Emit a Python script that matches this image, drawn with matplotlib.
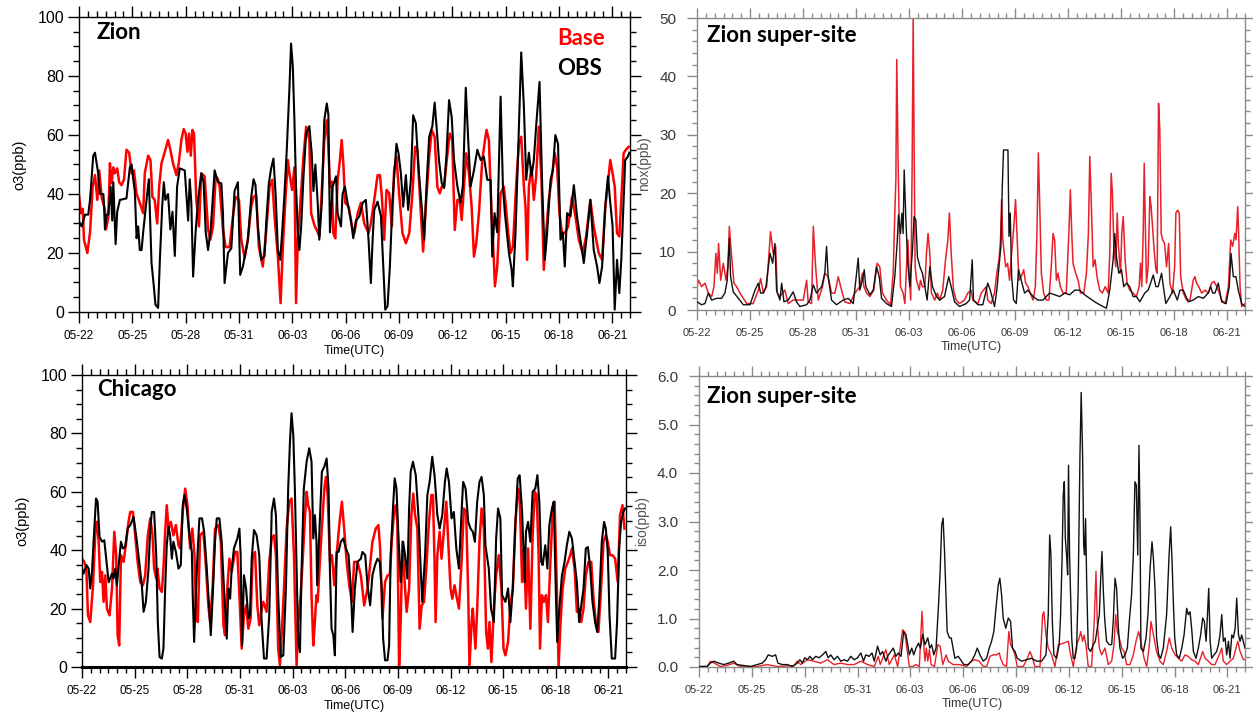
import matplotlib
matplotlib.use("Agg")
import matplotlib.pyplot as plt
from matplotlib.ticker import MultipleLocator, FixedLocator, FormatStrFormatter

plt.rcParams['font.family'] = ['Liberation Sans', 'DejaVu Sans']

# ---------------- data (time = days since 05-22 00 UTC) ----------------
date_labels = ["05-22", "05-25", "05-28", "05-31", "06-03", "06-06",
               "06-09", "06-12", "06-15", "06-18", "06-21"]

zion_obs = [(0,30.7),(0.15,29),(0.34,33),(0.52,33),(0.62,38),(0.80,53),(0.90,54),(1.08,47),(1.18,40),(1.37,40),(1.40,37),(1.46,28),(1.55,33),(1.65,33),(1.78,42.5),(1.87,31),(1.93,44),(2.06,23),(2.15,34),(2.30,38),(2.67,38.5),(2.86,49),(2.96,50),(3.05,45),(3.14,41),(3.24,25),(3.33,29),(3.42,21),(3.52,21),(3.61,27),(3.80,38),(3.93,45),(4.08,16.6),(4.21,8.7),(4.30,2.5),(4.45,1.4),(4.55,17.7),(4.68,35.7),(4.77,44),(4.86,38),(5.01,40),(5.14,28),(5.26,34),(5.39,19),(5.52,42.5),(5.67,48.7),(5.95,48),(6.14,31),(6.23,45),(6.32,37),(6.42,12),(6.57,28),(6.70,38),(6.88,47),(7.01,44),(7.13,27),(7.26,21),(7.41,28),(7.63,48),(7.82,44),(8.01,43.6),(8.10,33.5),(8.19,9.8),(8.38,20),(8.57,21.6),(8.75,41),(8.94,44),(9.07,12.6),(9.22,15.4),(9.50,24.5),(9.69,39),(9.82,45),(9.93,43),(10.06,29),(10.25,17.7),(10.44,19),(10.53,30),(10.68,43.6),(10.81,48.7),(10.94,52),(11.06,40),(11.19,21),(11.32,17.7),(11.43,27),(11.56,40),(11.69,55),(11.84,76),(11.93,91),(12.03,83),(12.12,65),(12.21,42.5),(12.31,27),(12.40,21),(12.50,29),(12.63,46),(12.78,60.5),(12.96,63),(13.09,54),(13.19,41),(13.30,50),(13.43,37),(13.52,24.5),
            (13.67,38),(13.80,65),(13.94,70.7),(14.03,67),(14.12,27),(14.27,42.5),(14.46,46),(14.55,33.5),(14.74,29),(14.83,40),(14.96,42.5),(15.11,37),(15.30,31),(15.43,25),(15.58,31),(15.77,32.4),(15.96,37),(16.14,38),(16.29,24.5),(16.42,9.8),(16.52,24.5),(16.61,34.6),(16.80,37.4),(16.99,32.4),(17.12,15.4),(17.23,0.8),(17.36,2),(17.49,15.4),(17.64,38),(17.86,57),(17.97,54),(18.11,47),(18.24,35.7),(18.39,46.4),(18.52,34.6),(18.67,44.8),(18.80,66.7),(18.95,64),(19.10,49),(19.28,35.7),(19.42,24.5),(19.55,42.5),(19.70,59.4),(19.88,63),(20.01,71),(20.16,59.4),(20.25,51.5),(20.41,43.6),(20.54,42),(20.67,52.7),(20.82,71.8),(20.97,66),(21.10,51.5),(21.29,42.5),(21.47,37),(21.60,43),(21.76,76),(21.90,58),(22.03,42.5),(22.22,48),(22.41,55),(22.60,51.5),(22.78,52.7),(22.97,44.8),(23.16,44.8),(23.25,18.8),(23.38,33.5),(23.53,27),(23.72,73),(23.85,42.5),(23.96,33.5),(24.19,20),(24.34,14.3),(24.41,8.7),(24.56,27),(24.71,55),(24.88,88),(25.03,69.6),(25.16,44.8),(25.31,54),(25.46,46),(25.59,51.5),(25.72,63),(25.91,78),(26.06,42.5),(26.21,17.7),(26.34,27),(26.53,44.8),(26.66,48),(26.80,60),(26.95,57),(27.09,24.5),(27.22,27),(27.33,15.4),(27.46,33.5),(27.65,32.4),(27.84,43),(28.02,32.4),(28.21,24.5),(28.40,16.6),(28.59,27),(28.77,38),(28.96,21),(29.15,15.4),(29.28,9.8),(29.43,15.4),(29.61,35.7),(29.76,46),(29.89,37),(30.02,29),(30.14,0.8),(30.27,17.7),(30.40,6.4),(30.51,17.7),(30.64,38),(30.73,51.5),(30.88,52.7),(30.96,54)]

zion_base = [(0,39.7),(0.11,33.5),(0.21,35),(0.28,24.5),(0.47,20),(0.62,27),(0.77,42.5),(0.90,46.4),(1.03,38),(1.14,48),(1.27,39),(1.46,34.6),(1.52,28),(1.65,32),(1.74,50.4),(1.83,43.6),(1.93,49),(2.02,47),(2.15,48.7),(2.26,44),(2.39,43),(2.53,44.8),(2.67,55),(2.82,54),(2.96,47),(3.09,48),(3.24,40),(3.42,37),(3.61,33.5),(3.70,47),(3.89,53),(4.02,51.5),(4.13,39),(4.26,38),(4.40,30),(4.51,42.5),(4.64,50.4),(4.83,54.3),(5.01,58.3),(5.14,55),(5.29,50.4),(5.48,46.4),(5.61,50.4),(5.76,58.3),(5.89,62),(6.00,60.5),(6.10,54.3),(6.19,60.5),(6.29,53),(6.38,61.7),(6.47,60.5),(6.60,38),(6.75,29),(6.88,47),(7.07,46),(7.26,28),(7.39,24.5),(7.54,29),(7.69,46),(7.82,45),(7.91,42.5),(8.10,28),(8.25,22),(8.47,22),(8.66,32.4),(8.81,39),(9.00,38),(9.13,24.5),(9.32,18.3),(9.50,24.5),(9.69,35.7),(9.82,39),(9.97,39.7),(10.12,22),(10.34,15.4),(10.53,27),(10.72,42.5),(10.87,44.8),(11.00,32.4),(11.19,18.8),(11.34,3),(11.47,22),(11.62,39),(11.75,51.5),(11.84,47),(11.99,41.4),(12.12,49),(12.21,3),(12.31,24.5),(12.44,35.7),(12.63,52.7),(12.78,62.8),(12.96,58.3),(13.06,33.5),(13.24,29.5),(13.43,27),
             (13.52,25.6),(13.67,42.5),(13.80,58.3),(13.94,65),(14.03,56),(14.12,42.5),(14.22,44.2),(14.31,26.7),(14.42,25),(14.55,44.8),(14.68,51.5),(14.78,58.3),(14.87,50.4),(14.98,37),(15.17,35.7),(15.36,29),(15.49,26.7),(15.68,33.5),(15.86,37),(16.05,30),(16.29,26.7),(16.42,30),(16.61,38),(16.80,46.4),(16.93,46.4),(17.04,39),(17.17,24.5),(17.30,41.4),(17.45,40.2),(17.60,29),(17.73,48.1),(17.86,52.7),(18.01,40.2),(18.20,26.7),(18.39,23.3),(18.58,26.7),(18.76,40.2),(18.91,56),(19.04,55),(19.19,38),(19.36,20.5),(19.51,35.7),(19.70,52.7),(19.85,61.7),(20.01,59.4),(20.16,42.5),(20.30,40.2),(20.41,42.5),(20.54,42.5),(20.69,51.5),(20.86,60.5),(21.00,58.3),(21.14,27.8),(21.29,38),(21.42,38),(21.53,31.2),(21.66,42.5),(21.79,53.8),(21.94,47),(22.09,35.7),(22.22,18.8),(22.35,23.3),(22.50,33.5),(22.69,51.5),(22.84,58.3),(22.93,61.7),(23.06,58.3),(23.21,33.5),(23.34,17.7),(23.40,8.7),(23.53,15.4),(23.72,40.2),(23.90,42.5),(24.00,37),(24.15,26.7),(24.28,20),(24.41,22),(24.60,43.6),(24.75,57),(24.88,59.4),(25.03,42.5),(25.12,35.7),(25.21,17.7),(25.31,42.5),(25.46,49),(25.59,38),(25.72,46),(25.87,62.8),(26.02,44.8),(26.15,14.3),(26.28,26.7),(26.43,38),(26.58,44.8),(26.77,53.8),(26.90,49),(27.03,33.5),(27.18,26.7),(27.33,26.7),(27.52,29),(27.74,39),(27.93,32.4),(28.12,24.5),(28.34,20),(28.53,25.6),(28.77,38),(28.96,29),(29.24,20),(29.43,17.7),(29.61,35.7),(29.80,46),(29.89,51.5),(30.02,47),(30.14,42.5),(30.27,26.7),(30.40,25.6),(30.51,38),(30.64,53.8),(30.77,55),(30.92,56)]

chicago_obs = [(0,33.7),(0.09,32),(0.25,34.9),(0.38,33.7),(0.47,26.9),(0.57,32.6),(0.66,42.9),(0.80,57.7),(0.89,56.6),(1.00,44.6),(1.14,42.9),(1.27,43.4),(1.38,37),(1.52,29),(1.71,32),(1.80,30.3),(1.90,33.7),(1.99,28),(2.09,34.9),(2.22,42.9),(2.33,40.6),(2.46,41.1),(2.60,47.4),(2.75,48.6),(2.94,51.4),(3.13,42.9),(3.28,34.9),(3.41,28),(3.51,18.9),(3.64,22.3),(3.79,33.7),(3.89,47.4),(3.98,53.1),(4.11,53.1),(4.23,38.3),(4.32,15.4),(4.42,3.4),(4.55,2.9),(4.64,6.3),(4.74,26.9),(4.83,41.7),(4.93,48),(5.02,45.1),(5.12,37.1),(5.21,42.9),(5.35,39.4),(5.50,33.7),(5.63,34.9),(5.74,55.4),(5.84,58.9),(5.97,54.3),(6.12,45.1),(6.26,39.4),(6.31,24.6),(6.39,8.6),(6.50,26.9),(6.60,40.6),(6.69,50.9),(6.84,50.9),(6.96,46.3),(7.11,33.7),(7.26,18.9),(7.34,10.9),(7.45,24.6),(7.58,42.9),(7.68,50.9),(7.83,50.9),(7.96,42.9),(8.09,26.9),(8.25,9.7),(8.34,26.9),(8.44,23.4),(8.53,33.7),(8.66,40.6),(8.85,44),(8.97,47.4),(9.04,38.3),(9.12,7.4),(9.23,31.4),(9.35,26.9),(9.48,16.6),(9.57,17.7),(9.67,37.1),(9.80,46.9),(9.95,45.1),(10.10,38.3),(10.24,15.4),(10.37,2.9),(10.52,2.9),(10.67,17.7),(10.81,53.1),(10.94,57.7),(11.05,52),(11.18,24.6),(11.32,3.4),(11.47,4),(11.62,26.9),(11.75,61.1),(11.85,77.1),(11.94,86.9),(12.04,79.4),(12.13,61.1),(12.23,32.6),(12.32,8.6),(12.42,5.1),(12.51,32.6),(12.64,61.1),(12.80,70.3),(12.95,74.9),(13.08,70.3),(13.18,44),(13.27,52),(13.36,42.9),
               (13.40,28),(13.55,49.7),(13.67,66.9),(13.81,68.6),(13.94,71.4),(14.05,61.1),(14.13,32.6),(14.22,13.1),(14.32,10.9),(14.41,4),(14.51,39.4),(14.62,39.4),(14.75,42.9),(14.89,44),(15.04,40.6),(15.19,38.3),(15.32,26.9),(15.42,12),(15.55,26.9),(15.70,36),(15.89,37.1),(15.98,39.4),(16.14,38.3),(16.27,28),(16.42,21.1),(16.55,31.4),(16.70,34.9),(16.84,37.1),(16.97,36),(17.08,26.9),(17.16,9.7),(17.27,2.3),(17.41,2.3),(17.50,7.4),(17.59,38.3),(17.73,55.4),(17.82,64.6),(17.92,61.1),(18.03,45.1),(18.16,29.1),(18.30,42.9),(18.41,38.3),(18.54,30.3),(18.64,54.3),(18.73,66.9),(18.86,70.3),(19.02,65.7),(19.17,52),(19.30,33.7),(19.39,22.3),(19.55,38.3),(19.68,58.9),(19.81,63.4),(19.96,72),(20.09,65.7),(20.25,52),(20.38,47.4),(20.53,52),(20.68,63.4),(20.78,68),(20.91,63.4),(21.06,50.9),(21.19,53.1),(21.33,40.6),(21.48,33.7),(21.63,53.1),(21.72,63.4),(21.86,61.1),(22.01,49.7),(22.14,47.4),(22.27,46.3),(22.39,42.9),(22.52,56.6),(22.65,63.4),(22.77,65.1),(22.90,58.9),(22.99,41.7),(23.18,33.7),(23.31,20),(23.47,15.4),(23.60,44),(23.71,54.3),(23.84,50.9),(23.94,24.6),(24.13,22.3),(24.28,26.9),(24.41,15.4),(24.55,26.9),(24.70,49.7),(24.83,64.6),(24.94,65.7),(25.08,53.1),(25.23,29.1),(25.30,46.3),(25.42,49.7),(25.55,42.9),(25.68,60),(25.83,61.1),(25.95,65.7),(26.06,56.6),(26.17,36),(26.25,34.9),(26.40,41.7),(26.52,33.7),(26.63,48.6),(26.78,54.3),(26.88,56.6),(27.01,23.4),(27.08,8.6),(27.20,20),(27.35,31.4),(27.50,36),(27.63,41.7),(27.77,46.3),(27.92,44),(28.07,36),(28.20,29.1),(28.33,15.4),(28.45,21.1),(28.58,26.9),(28.71,40.6),(28.83,41.1),(28.96,33.7),(29.09,22.3),(29.24,15.4),(29.36,12),(29.47,22.3),(29.62,42.9),(29.75,49.7),(29.85,47.4),(29.96,39.4),(30.06,17.7),(30.19,2.9),(30.38,2.9),(30.49,15.4),(30.61,40.6),(30.72,49.7),(30.85,53.1),(30.95,54.3)]

chicago_base = [(0,37.1),(0.13,36),(0.25,33.7),(0.34,17.7),(0.47,15.4),(0.63,28),(0.76,46.3),(0.85,49.7),(0.95,42.9),(1.04,29.1),(1.14,32.6),(1.23,22.3),(1.33,31.4),(1.42,20),(1.57,17.7),(1.71,26.9),(1.84,46.3),(1.95,38.3),(2.03,10.9),(2.12,7.4),(2.22,38.3),(2.37,36),(2.52,42.9),(2.65,49.7),(2.75,53.1),(2.90,53.1),(3.03,45.1),(3.17,36),(3.32,29.1),(3.47,28),(3.60,31.4),(3.75,45.1),(3.89,50.9),(4.02,45.1),(4.11,33.7),(4.23,30.3),(4.30,33.7),(4.42,26.9),(4.55,25.7),(4.64,33.7),(4.74,46.3),(4.83,55.4),(4.93,47.4),(5.06,49.7),(5.21,45.1),(5.35,48.6),(5.50,41.7),(5.59,40.6),(5.74,53.1),(5.88,61.1),(6.01,55.4),(6.16,40.6),(6.29,47.4),(6.41,38.3),(6.50,17.7),(6.60,15.4),(6.73,45.1),(6.92,46.3),(7.07,33.7),(7.20,21.1),(7.30,15.4),(7.45,28),(7.58,47.4),(7.77,48.6),(7.91,42.9),(8.06,14.3),(8.15,10.9),(8.28,26.9),(8.40,37.1),(8.53,32.6),(8.72,39.4),(8.85,39.4),(8.97,24.6),(9.10,6.3),(9.23,17.7),(9.35,21.1),(9.48,13.1),(9.61,16.6),(9.73,38.3),(9.86,39.4),(9.99,21.1),(10.10,14.3),(10.24,20),(10.33,22.3),(10.52,18.9),(10.67,36),(10.81,44),(10.94,45.1),(11.05,38.3),(11.18,6.3),(11.28,0.6),(11.37,9.7),(11.51,26.9),(11.66,47.4),(11.81,56.6),(11.94,57.7),(12.08,38.3),(12.13,24.6),(12.23,0.6),(12.32,15.4),(12.46,24.6),(12.57,36),(12.70,50.9),(12.80,60),(12.89,55.4),(12.99,53.1),(13.08,24.6),(13.18,7.4),(13.27,15.4),(13.36,24.6),
                (13.43,22.3),(13.62,42.9),(13.81,61.1),(13.90,65.1),(14.00,58.9),(14.13,36),(14.24,38.3),(14.38,28),(14.51,38.3),(14.66,48.6),(14.81,56.6),(14.94,47.4),(15.08,36),(15.23,28),(15.38,22.3),(15.51,36),(15.70,36),(15.89,31.4),(16.08,21.1),(16.27,26.9),(16.36,31.4),(16.55,42.9),(16.74,47.4),(16.89,48.6),(16.99,40.6),(17.12,16.6),(17.27,29.1),(17.41,31.4),(17.54,31.4),(17.65,42.9),(17.78,53.1),(17.88,55.4),(17.97,49.7),(18.07,0),(18.16,15.4),(18.26,42.9),(18.41,26.9),(18.50,18.9),(18.64,26.9),(18.77,52),(18.88,59.4),(18.98,52),(19.11,47.4),(19.24,13.1),(19.36,21.1),(19.49,22.3),(19.62,33.7),(19.77,49.7),(19.91,58.9),(20.00,58.9),(20.09,36),(20.15,15.4),(20.25,38.3),(20.38,46.3),(20.49,37.1),(20.63,47.4),(20.76,56.6),(20.87,42.9),(21.00,26.9),(21.10,23.4),(21.23,28),(21.33,24.6),(21.48,20),(21.63,36),(21.76,54.3),(21.89,53.1),(22.01,24.6),(22.08,0),(22.20,15.4),(22.27,20),(22.42,6.3),(22.52,20),(22.65,42.9),(22.77,54.3),(22.90,47.4),(23.03,12),(23.13,6.3),(23.22,15.4),(23.33,1.7),(23.47,20),(23.60,31.4),(23.75,38.3),(23.90,26.9),(24.02,6.3),(24.13,4),(24.28,8.6),(24.41,21.1),(24.55,26.9),(24.70,49.7),(24.85,61.1),(24.94,58.9),(25.08,29.1),(25.19,40.6),(25.30,20),(25.42,40.6),(25.55,13.1),(25.68,45.1),(25.80,60),(25.91,58.9),(26.02,38.3),(26.10,6.3),(26.21,24.6),(26.31,22.3),(26.44,24.6),(26.55,15.4),(26.69,36),(26.82,53.1),(26.93,56.6),(27.06,26.9),(27.16,0),(27.27,15.4),(27.39,26.9),(27.54,33.7),(27.69,36),(27.82,38.3),(27.92,40.6),(28.07,33.7),(28.20,18.9),(28.30,20),(28.45,15.4),(28.58,20),(28.71,31.4),(28.86,36),(29.02,36),(29.15,23.4),(29.28,15.4),(29.43,12),(29.58,26.9),(29.72,42.9),(29.85,45.1),(29.96,42.9),(30.09,38.3),(30.23,38.3),(30.38,37.1),(30.53,29.1),(30.66,52),(30.80,55.4),(30.91,47.4)]

nox_obs = [(0,1.4),(0.26,0.9),(0.45,1.1),(0.64,2.9),(0.83,1.7),(1.11,2),(1.39,2),(1.58,2.9),(1.71,5.1),(1.83,12.3),(1.90,5.7),(2.05,3.1),(2.34,2),(2.62,0.9),(3.00,0.9),(3.28,3.4),(3.47,4.6),(3.60,2.9),(3.75,2.9),(3.90,4),(4.13,9.7),(4.28,8),(4.41,11.4),(4.50,3.4),(4.69,1.7),(4.79,4.6),(4.92,1.4),(5.16,1.7),(5.44,3.1),(5.63,1.4),(5.82,0.6),(6.20,0.9),(6.39,1.7),(6.58,4.3),(6.76,2.9),(7.05,4),(7.23,6.3),(7.33,10.9),(7.42,5.7),(7.61,1.7),(7.89,0.9),(8.27,1.7),(8.55,2),(8.84,1.1),(9.12,8.9),(9.21,3.4),(9.36,5.1),(9.46,6.9),(9.55,4),(9.78,2.6),(9.97,3.4),(10.15,7.4),(10.31,5.7),(10.44,2),(10.72,1.1),(11.00,0.6),(11.19,5.7),(11.32,11.4),(11.40,16.3),(11.51,13.1),(11.59,16.6),(11.66,13.1),(11.72,24),(11.81,16),(11.91,8.6),(12.04,4),(12.19,10.3),(12.28,16),(12.38,15.4),(12.47,9.1),(12.61,7.4),(12.75,6.3),(12.89,4),(13.02,1.7),(13.17,7.4),(13.32,4),(13.55,2.3),(13.73,1.7),
           (14.00,2.3),(14.24,5.7),(14.38,4),(14.57,1.4),(14.85,0.6),(15.23,1.1),(15.42,1.7),(15.57,8.6),(15.64,1.7),(15.89,0.9),(16.17,0.9),(16.36,3.4),(16.45,4.6),(16.59,3.4),(16.83,0.6),(16.96,3.4),(17.08,7.4),(17.19,10.9),(17.27,21.1),(17.34,27.4),(17.49,27.4),(17.59,27.4),(17.65,12.6),(17.72,16.6),(17.80,5.7),(17.91,1.7),(18.06,1.1),(18.19,6.9),(18.34,5.1),(18.53,2.9),(18.72,3.4),(19.01,2.3),(19.29,1.7),(19.57,1.7),(19.95,2.9),(20.23,2.6),(20.52,2.3),(20.80,2.9),(21.08,2.6),(21.37,3.4),(21.65,3.4),(21.93,2.6),(22.22,2),(22.50,1.4),(22.78,0.9),(23.16,0.3),(23.35,3.4),(23.54,8.6),(23.63,13.1),(23.73,9.1),(23.86,6.3),(24.01,6.9),(24.14,4),(24.30,4.6),(24.48,4),(24.67,2.3),(24.86,2.3),(25.05,1.4),(25.33,2.9),(25.52,3.4),(25.66,4.6),(25.81,6),(25.96,4),(26.09,4),(26.28,6.3),(26.41,3.4),(26.52,1.1),(26.75,2.3),(26.94,3.4),(27.17,1.7),(27.32,3.4),(27.51,3.4),(27.79,1.4),(28.07,1.7),(28.36,2.3),(28.64,2),(28.92,2.9),(29.06,4),(29.17,2.9),(29.30,2.9),(29.49,4.6),(29.68,1.4),(29.93,1.1),(30.11,4),(30.21,9.7),(30.34,5.7),(30.49,5.7),(30.62,3.4),(30.81,1.1),(31.00,0.6)]

nox_base = [(0,4),(0.08,5.1),(0.26,4),(0.45,4.6),(0.64,2.9),(0.83,2.3),(0.96,4),(1.07,9.7),(1.15,6.3),(1.22,11.4),(1.34,5.1),(1.49,8),(1.64,5.1),(1.75,7.4),(1.83,14.3),(1.96,9.1),(2.09,4.6),(2.24,4),(2.43,2.9),(2.81,1.1),(3.18,1.1),(3.47,3.4),(3.60,5.4),(3.75,2.9),(3.94,4),(4.16,13.4),(4.31,9.7),(4.45,10.9),(4.54,2.9),(4.69,2.3),(4.97,3.4),(5.16,1.1),(5.44,1.7),(5.73,1.7),(6.01,1.7),(6.20,5.1),(6.29,1.4),(6.48,1.1),(6.58,14.3),(6.71,7.4),(6.86,1.7),(7.10,4),(7.23,6.3),(7.42,5.7),(7.61,2.9),(7.80,2.9),(7.99,5.7),(8.18,3.4),(8.36,1.4),(8.65,1.1),(8.93,2.9),(9.21,4),(9.36,6.3),(9.44,4),(9.59,2.9),(9.78,2.3),(10.00,3.4),(10.19,8),(10.34,7.4),(10.49,2.9),(10.72,1.7),(10.95,0.9),(11.10,6.3),(11.19,16.6),(11.25,22.3),(11.30,42.9),(11.38,24.6),(11.43,16.6),(11.51,4),(11.66,2.9),(11.76,1.1),(11.85,7.4),(11.93,12),(12.00,6.3),(12.09,1.7),(12.17,24.6),(12.23,50),(12.28,29.1),(12.34,7.4),(12.42,5.1),(12.57,3.4),(12.64,5.1),(12.75,4),(12.89,4),(12.98,9.7),(13.07,13.1),(13.17,9.7),(13.26,2.9),(13.45,1.7),(13.60,2.9),(13.73,1.7),
            (13.90,3.4),(14.06,8.6),(14.19,12),(14.28,16.6),(14.38,9.7),(14.51,3.4),(14.66,1.7),(14.85,1.1),(15.13,1.7),(15.32,2.9),(15.51,3.4),(15.60,1.7),(15.89,1.1),(16.08,2.9),(16.21,3.4),(16.36,4),(16.45,1.7),(16.64,1.1),(16.83,2.9),(16.96,6.3),(17.08,8.6),(17.17,12),(17.23,18.9),(17.30,12),(17.46,7.4),(17.57,8),(17.68,5.1),(17.78,9.1),(17.91,13.7),(18.02,18.9),(18.10,13.1),(18.21,5.1),(18.34,5.7),(18.48,6.9),(18.59,4.6),(18.72,4),(18.85,2.9),(19.01,1.7),(19.14,4),(19.23,13.1),(19.31,26.9),(19.38,18.9),(19.48,6.3),(19.61,2.9),(19.76,1.7),(19.91,1.7),(20.04,7.4),(20.14,13.1),(20.23,12),(20.33,5.1),(20.42,6.3),(20.55,4),(20.71,2.9),(20.89,2.9),(21.05,14.3),(21.12,20.6),(21.20,13.1),(21.27,8),(21.42,6.3),(21.56,5.1),(21.69,2.9),(21.88,2.9),(22.03,6.3),(22.14,13.1),(22.22,26.3),(22.31,17.7),(22.41,7.4),(22.52,8.6),(22.63,5.7),(22.78,3.4),(22.93,2.9),(23.09,4),(23.26,2.9),(23.35,9.7),(23.43,23.4),(23.50,20),(23.58,10.9),(23.69,7.4),(23.77,16.6),(23.84,10.9),(23.96,6.3),(24.03,13.1),(24.11,16),(24.22,8.6),(24.33,4.6),(24.48,3.4),(24.67,2.9),(24.86,2.3),(25.01,4),(25.09,8),(25.16,4),(25.24,13.1),(25.30,25.1),(25.37,13.1),(25.43,4.6),(25.52,7.4),(25.62,19.4),(25.69,17.7),(25.77,14.3),(25.86,10.3),(25.96,6.9),(26.03,6.3),(26.11,35.4),(26.18,30.9),(26.26,13.1),(26.34,12),(26.45,11.4),(26.56,7.4),(26.68,11.4),(26.75,4.6),(26.90,2.9),(27.02,7.4),(27.09,16.6),(27.19,17.1),(27.28,16.6),(27.36,5.7),(27.51,2.9),(27.70,1.7),(27.89,1.7),(28.07,5.1),(28.17,5.7),(28.26,4.6),(28.38,4),(28.55,2.9),(28.74,3.4),(28.92,2.9),(29.11,4.6),(29.25,4.9),(29.40,4),(29.55,2.9),(29.68,1.7),(29.87,1.1),(30.06,4),(30.19,12),(30.30,10.9),(30.42,13.1),(30.49,12),(30.59,17.7),(30.64,13.1),(30.72,4),(30.81,0.6),(31.00,1.1)]

iso_obs = [(0,0.01),(0.46,0.01),(0.65,0.08),(0.84,0.12),(1.12,0.08),(1.40,0.05),(1.69,0.08),(1.97,0.12),(2.16,0.05),(2.54,0.03),(2.92,0.01),(3.30,0.05),(3.59,0.08),(3.78,0.15),(3.93,0.25),(4.16,0.22),(4.35,0.25),(4.48,0.08),(4.73,0.05),(5.01,0.05),(5.30,0.01),(5.58,0.08),(5.73,0.15),(5.87,0.08),(6.00,0.19),(6.15,0.15),(6.30,0.22),(6.44,0.15),(6.63,0.22),(6.82,0.19),(7.01,0.25),(7.20,0.32),(7.33,0.19),(7.48,0.25),(7.67,0.15),(7.86,0.22),(8.05,0.12),(8.24,0.15),(8.43,0.12),(8.62,0.22),(8.81,0.15),(9.00,0.19),(9.19,0.29),(9.34,0.12),(9.47,0.25),(9.66,0.22),(9.82,0.29),(9.95,0.12),(10.14,0.43),(10.29,0.25),(10.42,0.32),(10.61,0.12),(10.75,0.25),(10.90,0.32),(11.03,0.39),(11.18,0.22),(11.32,0.29),(11.47,0.22),(11.62,0.73),(11.75,0.67),(11.85,0.46),(11.94,0.25),(12.08,0.39),(12.19,0.25),(12.32,0.39),(12.46,0.49),(12.57,0.39),(12.70,0.67),(12.83,0.46),(12.99,0.6),(13.10,0.39),(13.21,0.46),(13.33,0.25),(13.46,0.39),(13.59,1.21),(13.69,1.97),(13.78,2.93),(13.86,3.07),(13.94,2.38),(14.01,1.63),(14.09,0.73),(14.22,0.6),(14.32,0.6),
           (14.53,0.18),(14.72,0.22),(14.85,0.15),(15.04,0.05),(15.28,0.05),(15.47,0.12),(15.66,0.25),(15.80,0.39),(15.95,0.25),(16.14,0.12),(16.33,0.18),(16.48,0.39),(16.61,0.53),(16.74,0.73),(16.86,1.21),(16.99,1.69),(17.08,1.83),(17.18,1.49),(17.27,1.01),(17.42,0.8),(17.56,1.01),(17.69,0.94),(17.80,0.39),(17.94,0.32),(18.07,0.18),(18.31,0.12),(18.60,0.15),(18.88,0.18),(19.17,0.12),(19.45,0.12),(19.70,0.25),(19.83,1.08),(19.91,2.72),(19.98,2.31),(20.06,0.94),(20.15,0.25),(20.30,0.18),(20.45,0.46),(20.53,1.08),(20.61,2.17),(20.68,3.54),(20.74,3.82),(20.80,2.65),(20.87,2.31),(20.93,1.9),(20.98,4.16),(21.04,2.31),(21.16,0.6),(21.25,0.18),(21.34,0.18),(21.44,0.39),(21.53,1.62),(21.63,4.36),(21.70,5.66),(21.78,4.36),(21.84,2.51),(21.89,2.31),(21.95,3.06),(22.01,1.76),(22.10,0.39),(22.23,0.32),(22.39,0.46),(22.50,0.53),(22.61,0.8),(22.73,1.08),(22.80,1.76),(22.88,2.38),(22.95,1.62),(23.03,1.01),(23.14,0.53),(23.30,0.46),(23.43,0.46),(23.52,0.94),(23.62,1.83),(23.71,1.62),(23.81,0.8),(23.90,0.39),(24.05,0.18),(24.19,0.25),(24.32,0.39),(24.43,0.94),(24.56,1.49),(24.66,2.31),(24.75,3.82),(24.83,3.75),(24.91,2.31),(24.98,4.57),(25.04,2.99),(25.09,0.39),(25.23,0.32),(25.38,0.6),(25.49,1.08),(25.61,2.03),(25.72,2.58),(25.80,2.24),(25.89,1.62),(25.98,0.6),(26.10,0.25),(26.21,0.18),(26.36,0.39),(26.55,1.08),(26.69,2.31),(26.78,2.89),(26.86,2.17),(26.93,1.35),(27.01,0.6),(27.12,0.25),(27.27,0.18),(27.41,0.39),(27.54,0.66),(27.69,1.21),(27.78,1.08),(27.88,1.14),(27.97,0.8),(28.07,0.32),(28.22,0.18),(28.35,0.39),(28.48,0.66),(28.60,1.01),(28.69,0.94),(28.79,0.53),(28.86,1.01),(28.94,1.62),(29.02,0.53),(29.11,0.18),(29.24,0.25),(29.39,0.32),(29.49,0.46),(29.58,0.66),(29.68,1.08),(29.77,0.53),(29.87,0.6),(29.96,0.25),(30.06,0.53),(30.15,0.18),(30.25,0.66),(30.34,0.6),(30.44,0.8),(30.53,1.42),(30.63,0.66),(30.72,0.53),(30.81,0.66),(30.95,0.46),(31.00,0.39)]

iso_base = [(0,0.01),(0.46,0.01),(0.65,0.12),(0.87,0.08),(1.22,0.01),(1.59,0.03),(1.97,0.08),(2.35,0.01),(3.30,0.01),(3.87,0.05),(4.44,0.01),(5.39,0.03),(5.58,0.12),(5.77,0.05),(6.15,0.15),(6.53,0.12),(6.91,0.08),(7.29,0.15),(7.67,0.05),(8.05,0.08),(8.43,0.05),(8.81,0.05),(9.19,0.12),(9.57,0.05),(9.95,0.01),(10.18,0.22),(10.29,0.05),(10.61,0.36),(10.80,0.05),(11.09,0.25),(11.28,0.01),(11.56,0.77),(11.66,0.73),(11.75,0.53),(11.94,0.01),(12.13,0.01),(12.32,0.05),(12.51,0.01),(12.66,1.15),(12.76,0.46),(12.83,0.12),(12.91,0.39),(12.99,0.12),(13.08,0.36),(13.18,0.05),(13.37,0.01),(13.56,0.46),(13.69,0.43),(13.84,0.05),(14.03,0.25),(14.15,0.12),
            (14.43,0.05),(14.81,0.05),(15.19,0.01),(15.47,0.12),(15.66,0.15),(15.91,0.12),(16.14,0.01),(16.33,0.01),(16.52,0.22),(16.70,0.25),(16.89,0.25),(17.05,0.29),(17.12,0.18),(17.27,0.05),(17.46,0.01),(17.59,0.73),(17.69,0.46),(17.80,0.39),(17.94,0.25),(18.07,0.01),(18.41,0.01),(18.64,0.18),(18.79,0.32),(18.94,0.18),(19.07,0.01),(19.36,0.01),(19.51,1.08),(19.58,1.14),(19.70,0.66),(19.83,0.39),(20.02,0.25),(20.21,0.01),(20.40,0.46),(20.68,0.49),(20.97,0.53),(21.10,0.25),(21.25,0.01),(21.44,0.46),(21.59,0.6),(21.67,0.73),(21.78,0.53),(21.86,0.66),(21.97,0.46),(22.10,0.01),(22.29,0.01),(22.44,0.94),(22.54,1.97),(22.61,0.94),(22.73,0.39),(22.86,0.25),(23.05,0.39),(23.24,0.05),(23.43,0.12),(23.56,0.46),(23.66,1.08),(23.75,0.73),(23.86,0.6),(24.00,0.39),(24.13,0.32),(24.28,0.05),(24.47,0.05),(24.66,0.25),(24.81,0.53),(24.96,0.73),(25.08,0.53),(25.27,0.18),(25.42,0.01),(25.57,0.46),(25.66,0.94),(25.80,0.66),(25.98,0.32),(26.17,0.12),(26.36,0.05),(26.55,0.32),(26.70,0.6),(26.84,0.39),(27.03,0.25),(27.22,0.18),(27.41,0.12),(27.59,0.25),(27.78,0.22),(27.97,0.15),(28.16,0.12),(28.35,0.05),(28.60,0.32),(28.73,0.18),(28.92,0.12),(29.11,0.05),(29.30,0.05),(29.58,0.29),(29.68,0.39),(29.77,0.12),(29.96,0.05),(30.15,0.12),(30.34,0.18),(30.59,0.53),(30.72,0.32),(30.91,0.15),(31.00,0.15)]

# ---------------- figure ----------------
W, H = 1253, 715
fig = plt.figure(figsize=(W / 100, H / 100), dpi=100)


def add_ax(x0, y0, x1, y1):
    return fig.add_axes([x0 / W, 1 - y1 / H, (x1 - x0) / W, (y1 - y0) / H])


tick_days = [3 * i for i in range(len(date_labels))]
RED = '#ff0000'
BLACK = '#000000'


def xy(pairs):
    return [p[0] for p in pairs], [p[1] for p in pairs]


def style_left(ax, ylabel):
    ax.set_xlim(0, 31)
    ax.set_ylim(0, 100)
    ax.xaxis.set_major_locator(FixedLocator(tick_days))
    ax.set_xticklabels(date_labels)
    ax.xaxis.set_minor_locator(MultipleLocator(0.5))
    ax.yaxis.set_major_locator(MultipleLocator(20))
    ax.yaxis.set_minor_locator(MultipleLocator(5))
    ax.tick_params(which='both', direction='out', top=True, right=True,
                   width=1.0, color='black')
    ax.tick_params(which='major', length=7.7)
    ax.tick_params(which='minor', length=4.0)
    ax.tick_params(axis='x', which='major', labelsize=8.5, pad=5.5)
    ax.tick_params(axis='y', which='major', labelsize=11.5, pad=3)
    for s in ax.spines.values():
        s.set_linewidth(1.0)
        s.set_color('black')
    ax.set_ylabel(ylabel, fontsize=10.5, labelpad=8)
    ax.set_xlabel('Time(UTC)', fontsize=9, labelpad=2)


def style_right(ax, ylim, major, minor, fmt, ylabel):
    gray = '#8a8a8a'
    ax.set_xlim(0, 31)
    ax.set_ylim(*ylim)
    ax.xaxis.set_major_locator(FixedLocator(tick_days))
    ax.set_xticklabels(date_labels)
    ax.xaxis.set_minor_locator(MultipleLocator(0.5))
    ax.yaxis.set_major_locator(MultipleLocator(major))
    ax.yaxis.set_minor_locator(MultipleLocator(minor))
    ax.yaxis.set_major_formatter(FormatStrFormatter(fmt))
    ax.tick_params(which='both', direction='out', top=True, right=True,
                   width=1.0, color=gray, labelcolor='#383838')
    ax.tick_params(which='major', length=7.0)
    ax.tick_params(which='minor', length=3.6)
    ax.tick_params(axis='x', which='major', labelsize=8, pad=6)
    ax.tick_params(axis='y', which='major', labelsize=11, pad=8)
    for s in ax.spines.values():
        s.set_linewidth(1.0)
        s.set_color(gray)
    ax.set_ylabel(ylabel, fontsize=10, color='#555555', labelpad=6)
    ax.set_xlabel('Time(UTC)', fontsize=9, color='#383838', labelpad=2)


ax_tl = add_ax(79, 17, 630, 312)
ax_tr = add_ax(697, 18, 1245, 310)
ax_bl = add_ax(82, 375, 626, 667)
ax_br = add_ax(699, 376, 1245, 667)

# Top-left: Zion O3
ax_tl.plot(*xy(zion_base), color=RED, lw=1.8, zorder=2)
ax_tl.plot(*xy(zion_obs), color=BLACK, lw=1.5, zorder=3)
style_left(ax_tl, 'o3(ppb)')

# Bottom-left: Chicago O3
ax_bl.plot(*xy(chicago_base), color=RED, lw=1.8, zorder=2)
ax_bl.plot(*xy(chicago_obs), color=BLACK, lw=1.5, zorder=3)
style_left(ax_bl, 'o3(ppb)')
ax_bl.spines['bottom'].set_linewidth(2.2)

# Top-right: NOx
ax_tr.plot(*xy(nox_base), color='#e8202a', lw=1.1, zorder=2)
ax_tr.plot(*xy(nox_obs), color='#111111', lw=1.0, zorder=3)
style_right(ax_tr, (0, 50), 10, 2, '%d', 'nox(ppb)')

# Bottom-right: isoprene
ax_br.plot(*xy(iso_base), color='#e8202a', lw=1.0, zorder=2)
ax_br.plot(*xy(iso_obs), color='#111111', lw=1.0, zorder=3)
style_right(ax_br, (0, 6), 1.0, 0.2, '%.1f', 'iso(ppb)')

# Panel titles / legend text
title_font = dict(family=['Lato', 'DejaVu Sans'], fontweight='bold', fontsize=16)


def ftext(x, y_baseline, s, color='black'):
    fig.text(x / W, 1 - y_baseline / H, s, color=color, va='baseline',
             ha='left', **title_font)


ftext(97, 39, 'Zion')
ftext(557, 45, 'Base', RED)
ftext(557, 75, 'OBS')
ftext(707, 42, 'Zion super-site')
ftext(97, 396, 'Chicago')
ftext(707, 403, 'Zion super-site')

fig.savefig('out.png', dpi=100)
